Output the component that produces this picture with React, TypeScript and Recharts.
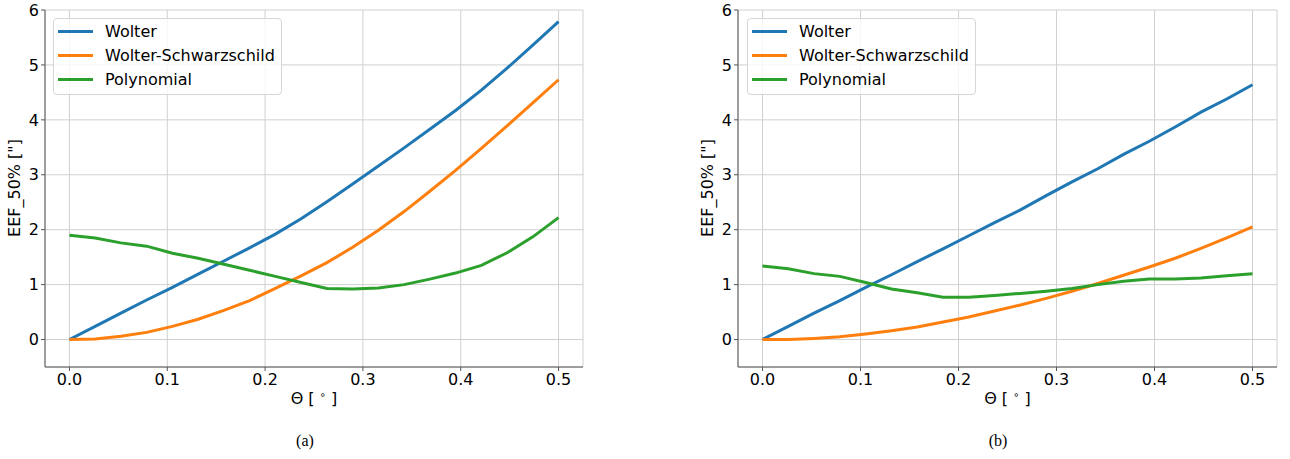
import React from "react";
import {
  LineChart,
  Line,
  XAxis,
  YAxis,
  CartesianGrid,
  Legend,
} from "recharts";

// field angle samples (deg)
const THETA = [
  0, 0.0263, 0.0526, 0.0789, 0.1053, 0.1316, 0.1579, 0.1842, 0.2105, 0.2368,
  0.2632, 0.2895, 0.3158, 0.3421, 0.3684, 0.3947, 0.4211, 0.4474, 0.4737, 0.5,
];

// panel (a)
const WOLTER_A = [
  0, 0.24, 0.48, 0.72, 0.95, 1.19, 1.43, 1.67, 1.92, 2.2, 2.51, 2.83, 3.16,
  3.49, 3.83, 4.17, 4.54, 4.94, 5.36, 5.79,
];
const SCHWARZ_A = [
  0, 0.01, 0.06, 0.13, 0.24, 0.37, 0.53, 0.71, 0.93, 1.16, 1.4, 1.68, 1.99,
  2.33, 2.7, 3.08, 3.48, 3.89, 4.31, 4.73,
];
const POLY_A = [
  1.9, 1.85, 1.76, 1.7, 1.57, 1.48, 1.37, 1.26, 1.15, 1.04, 0.93, 0.92, 0.94,
  1.0, 1.1, 1.21, 1.35, 1.58, 1.87, 2.22,
];

// panel (b)
const WOLTER_B = [
  0, 0.24, 0.48, 0.71, 0.95, 1.18, 1.42, 1.65, 1.89, 2.13, 2.36, 2.62, 2.87,
  3.11, 3.37, 3.61, 3.87, 4.14, 4.38, 4.64,
];
const SCHWARZ_B = [
  0, 0.0, 0.02, 0.05, 0.1, 0.16, 0.23, 0.32, 0.41, 0.52, 0.63, 0.75, 0.88,
  1.02, 1.17, 1.32, 1.48, 1.66, 1.85, 2.05,
];
const POLY_B = [
  1.34, 1.29, 1.2, 1.15, 1.04, 0.92, 0.85, 0.77, 0.77, 0.8, 0.84, 0.88, 0.93,
  1.0, 1.06, 1.1, 1.1, 1.12, 1.16, 1.2,
];

const X_TICKS = [0, 0.1, 0.2, 0.3, 0.4, 0.5];
const Y_TICKS = [0, 1, 2, 3, 4, 5, 6];

const SERIES = [
  { key: "wolter", name: "Wolter", color: "#1f77b4" },
  { key: "schwarz", name: "Wolter-Schwarzschild", color: "#ff7f0e" },
  { key: "poly", name: "Polynomial", color: "#2ca02c" },
];

const FONT = "'DejaVu Sans', sans-serif";
const TICK = { fontSize: 16, fill: "#000", fontFamily: FONT };

function LegendBox() {
  return (
    <div
      style={{
        width: 227,
        height: 75,
        border: "1px solid #d6d6d6",
        borderRadius: 4,
        background: "rgba(255,255,255,0.8)",
        fontFamily: FONT,
        fontSize: 16,
        color: "#000",
        position: "relative",
      }}
    >
      {SERIES.map((s, i) => (
        <div
          key={s.key}
          style={{
            position: "absolute",
            left: 4,
            top: 2 + i * 24,
            height: 20,
            display: "flex",
            alignItems: "center",
            whiteSpace: "nowrap",
          }}
        >
          <span
            style={{
              display: "inline-block",
              width: 35,
              height: 3,
              background: s.color,
              marginRight: 12,
            }}
          />
          {s.name}
        </div>
      ))}
    </div>
  );
}

interface PanelProps {
  wolter: number[];
  schwarz: number[];
  poly: number[];
  left: number;
  yAxisWidth: number;
  marginRight: number;
  legendLeft: number;
  caption: string;
  captionX: number;
}

function Panel(p: PanelProps) {
  const data = THETA.map((t, i) => ({
    theta: t,
    wolter: p.wolter[i],
    schwarz: p.schwarz[i],
    poly: p.poly[i],
  }));
  const width = 600;
  const plotLeft = 10 + p.yAxisWidth;
  const plotRight = width - p.marginRight;
  const center = (plotLeft + plotRight) / 2;

  return (
    <div style={{ position: "absolute", left: p.left, top: 0, width, height: 459 }}>
      <LineChart
        width={width}
        height={459}
        data={data}
        margin={{ top: 10, right: p.marginRight, bottom: 62, left: 10 }}
      >
        <CartesianGrid stroke="#d0d0d0" strokeWidth={1} />
        <XAxis
          dataKey="theta"
          type="number"
          domain={[-0.025, 0.525]}
          ticks={X_TICKS}
          tickFormatter={(v: number) => v.toFixed(1)}
          tick={TICK}
          tickSize={4}
          tickMargin={3}
          height={30}
          axisLine={{ stroke: "#555" }}
          tickLine={{ stroke: "#555" }}
          allowDataOverflow
        />
        <XAxis
          xAxisId="top"
          orientation="top"
          type="number"
          domain={[-0.025, 0.525]}
          height={0}
          tick={false}
          tickLine={false}
          axisLine={{ stroke: "#555" }}
        />
        <YAxis
          type="number"
          domain={[-0.5, 6]}
          ticks={Y_TICKS}
          tick={TICK}
          tickSize={4}
          tickMargin={2}
          width={p.yAxisWidth}
          axisLine={{ stroke: "#555" }}
          tickLine={{ stroke: "#555" }}
          allowDataOverflow
        />
        <YAxis
          yAxisId="right"
          orientation="right"
          type="number"
          domain={[-0.5, 6]}
          width={0}
          tick={false}
          tickLine={false}
          axisLine={{ stroke: "#555" }}
        />
        <Legend
          layout="vertical"
          align="center"
          verticalAlign="middle"
          content={() => <LegendBox />}
          wrapperStyle={{ left: p.legendLeft, top: 18, width: 229, height: 77 }}
        />
        {SERIES.map((s) => (
          <Line
            key={s.key}
            dataKey={s.key}
            name={s.name}
            stroke={s.color}
            strokeWidth={3}
            dot={false}
            type="linear"
            isAnimationActive={false}
          />
        ))}
      </LineChart>
      <div
        style={{
          position: "absolute",
          left: center - 60,
          width: 120,
          top: 389,
          textAlign: "center",
          fontFamily: FONT,
          fontSize: 16,
        }}
      >
        Θ [ <sup style={{ fontSize: 10 }}>∘</sup> ]
      </div>
      <div
        style={{
          position: "absolute",
          left: plotLeft - 30 - 70,
          top: 188 - 10,
          width: 140,
          height: 20,
          lineHeight: "20px",
          textAlign: "center",
          fontFamily: FONT,
          fontSize: 16,
          transform: "rotate(-90deg)",
          transformOrigin: "70px 10px",
          whiteSpace: "nowrap",
        }}
      >
        EEF_50% ["]
      </div>
      <div
        style={{
          position: "absolute",
          left: p.captionX - 30,
          width: 60,
          top: 432,
          textAlign: "center",
          fontFamily: "'Liberation Serif', 'Times New Roman', serif",
          fontSize: 16,
        }}
      >
        {p.caption}
      </div>
    </div>
  );
}

export default function App() {
  return (
    <div
      style={{
        position: "absolute",
        left: 0,
        top: 0,
        width: 1290,
        height: 459,
        background: "#fff",
      }}
    >
      <Panel
        wolter={WOLTER_A}
        schwarz={SCHWARZ_A}
        poly={POLY_A}
        left={0}
        yAxisWidth={35}
        marginRight={17}
        legendLeft={53}
        caption="(a)"
        captionX={305}
      />
      <Panel
        wolter={WOLTER_B}
        schwarz={SCHWARZ_B}
        poly={POLY_B}
        left={690}
        yAxisWidth={38}
        marginRight={13}
        legendLeft={57}
        caption="(b)"
        captionX={308}
      />
    </div>
  );
}
